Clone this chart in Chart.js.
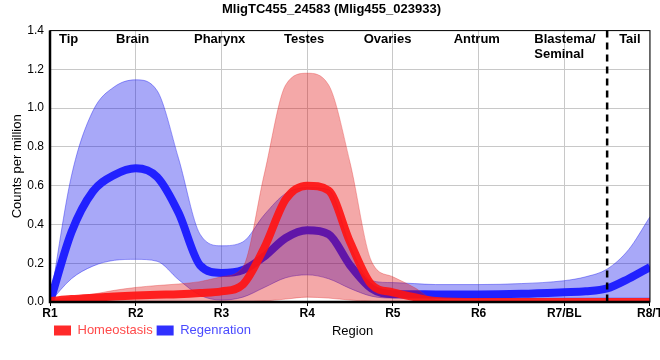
<!DOCTYPE html>
<html>
<head>
<meta charset="utf-8">
<script src="https://cdn.jsdelivr.net/npm/chart.js@4.4.1/dist/chart.umd.min.js"></script>
<style>
  html, body { margin: 0; padding: 0; background: #fff; overflow: hidden; }
  #wrap { width: 663px; height: 360px; }
</style>
</head>
<body>
<div id="wrap"><canvas id="grafico"></canvas></div>
<script>
// posiciones en el eje x (1 = R1 ... 8 = R8/T)
const xPos = [1, 1.25, 1.5, 1.75, 2, 2.25, 2.5, 2.75, 3, 3.25, 3.5, 3.75, 4, 4.25, 4.5, 4.75, 5, 5.25, 5.5, 6, 6.5, 7, 7.25, 7.5, 7.75, 8]

const homeoMean = [0.005, 0.015, 0.022, 0.028, 0.033, 0.037, 0.04, 0.046, 0.055, 0.09, 0.28, 0.53, 0.60, 0.575, 0.31, 0.09, 0.05, 0.025, 0.005, 0, 0, 0, 0, 0, 0, 0]
const homeoHi = [0.01, 0.025, 0.04, 0.06, 0.075, 0.085, 0.093, 0.105, 0.13, 0.18, 0.66, 1.12, 1.18, 1.12, 0.72, 0.21, 0.13, 0.075, 0.01, 0, 0, 0, 0, 0, 0, 0]
const homeoLo = [0, 0, 0, 0, 0, 0, 0, 0, 0, 0.002, 0.005, 0.015, 0.025, 0.02, 0.01, 0.003, 0, 0, 0, 0, 0, 0, 0, 0, 0, 0]

const regenMean = [0, 0.36, 0.57, 0.655, 0.69, 0.645, 0.46, 0.19, 0.15, 0.165, 0.235, 0.33, 0.37, 0.35, 0.19, 0.07, 0.04, 0.04, 0.039, 0.039, 0.042, 0.05, 0.055, 0.07, 0.12, 0.18]
const regenHi = [0, 0.65, 0.985, 1.11, 1.146, 1.09, 0.74, 0.35, 0.29, 0.31, 0.45, 0.56, 0.59, 0.58, 0.29, 0.11, 0.1, 0.095, 0.09, 0.09, 0.095, 0.11, 0.13, 0.17, 0.27, 0.44]
const regenLo = [0, 0.12, 0.185, 0.215, 0.22, 0.21, 0.115, 0.035, 0.01, 0.025, 0.075, 0.125, 0.14, 0.12, 0.07, 0.03, 0.02, 0.02, 0.02, 0.02, 0.02, 0.02, 0.02, 0.02, 0.02, 0.02]

const xLabels = ['R1', 'R2', 'R3', 'R4', 'R5', 'R6', 'R7/BL', 'R8/T']
const yTicks = [0, 0.2, 0.4, 0.6, 0.8, 1.0, 1.2, 1.4]

// nombres de las regiones arriba (posicion izquierda en unidades de x)
const regionNames = [['Tip'], ['Brain'], ['Pharynx'], ['Testes'], ['Ovaries'], ['Antrum'], ['Blastema/', 'Seminal'], ['Tail']]
const regionAt = [1.105, 1.77, 2.68, 3.73, 4.66, 5.71, 6.65, 7.64]
const dividerAt = 7.5

const FONT = "'Liberation Sans', Arial, sans-serif"

const pts = (arr) => arr.map((v, i) => ({ x: xPos[i], y: v }))

const linea = (label, arr, color, width, extra) => Object.assign({
    label: label,
    data: pts(arr),
    borderColor: color,
    borderWidth: width,
    pointRadius: 0,
    cubicInterpolationMode: 'monotone',
    fill: false
}, extra || {})

const overlay = {
    id: 'overlay',
    afterDatasetsDraw(chart) {
        const { ctx, chartArea: a, scales: { x } } = chart
        ctx.save()
        // linea punteada
        const dx = x.getPixelForValue(dividerAt)
        ctx.strokeStyle = '#000'
        ctx.lineWidth = 2.5
        ctx.setLineDash([7, 5])
        ctx.beginPath()
        ctx.moveTo(dx, a.top)
        ctx.lineTo(dx, a.bottom + 4)
        ctx.stroke()
        ctx.setLineDash([])
        // marco
        ctx.lineWidth = 1
        ctx.strokeRect(a.left, a.top, a.width, a.height)
        ctx.lineWidth = 2.5
        ctx.beginPath()
        ctx.moveTo(a.left, a.top)
        ctx.lineTo(a.left, a.bottom)
        ctx.lineTo(a.right, a.bottom)
        ctx.stroke()
        // regiones
        ctx.fillStyle = '#000'
        ctx.font = 'bold 13px ' + FONT
        ctx.textAlign = 'left'
        ctx.textBaseline = 'middle'
        regionNames.forEach((lines, i) => {
            lines.forEach((t, j) => {
                ctx.fillText(t, x.getPixelForValue(regionAt[i]), a.top + 9 + j * 14.5)
            })
        })
        // titulo del eje x
        ctx.font = '13px ' + FONT
        ctx.textAlign = 'center'
        ctx.fillText('Region', x.getPixelForValue(4.53), 331)
        ctx.restore()
    }
}

const grafico = document.getElementById('grafico').getContext('2d')

new Chart(grafico, {
    type: 'line',
    data: {
        datasets: [
            linea('Homeostasis', homeoMean, 'rgba(255, 20, 20, 0.92)', 8),
            linea('', homeoHi, 'rgba(225, 40, 40, 0.35)', 1, { fill: '+1', backgroundColor: 'rgba(223, 0, 0, 0.34)' }),
            linea('', homeoLo, 'rgba(225, 40, 40, 0.35)', 1),
            linea('Regenration', regenMean, 'rgba(25, 25, 255, 0.95)', 8),
            linea('', regenHi, 'rgba(40, 40, 240, 0.45)', 1, { fill: '+1', backgroundColor: 'rgba(0, 0, 234, 0.34)' }),
            linea('', regenLo, 'rgba(40, 40, 240, 0.45)', 1)
        ]
    },
    options: {
        responsive: true,
        maintainAspectRatio: false,
        animation: false,
        layout: { padding: { top: 0, bottom: 13 } },
        scales: {
            x: {
                type: 'linear',
                min: 1,
                max: 8,
                afterFit: (s) => { s.height = 18 },
                grid: { color: '#c8c8c8', tickColor: '#000', tickLength: 4 },
                border: { display: false },
                ticks: {
                    stepSize: 1,
                    padding: 0,
                    color: '#000',
                    font: { family: FONT, size: 12, weight: 'bold' },
                    callback: (v) => xLabels[v - 1]
                }
            },
            y: {
                min: 0,
                max: 1.4,
                afterFit: (s) => { s.width = 50 },
                afterBuildTicks: (s) => { s.ticks = yTicks.map(v => ({ value: v })) },
                grid: { color: '#c8c8c8', drawTicks: false },
                border: { display: false },
                ticks: {
                    padding: 6,
                    color: '#000',
                    font: { family: FONT, size: 12 },
                    callback: (v) => v.toFixed(1)
                },
                title: {
                    display: true,
                    text: 'Counts per million',
                    color: '#000',
                    padding: { top: 10, bottom: 0 },
                    font: { family: FONT, size: 13 }
                }
            }
        },
        plugins: {
            legend: {
                position: 'bottom',
                align: 'start',
                fullSize: false,
                labels: {
                    boxWidth: 17,
                    boxHeight: 10,
                    padding: 4,
                    font: { family: FONT, size: 13 },
                    filter: (item) => item.text !== '',
                    generateLabels: (chart) => {
                        const items = Chart.defaults.plugins.legend.labels.generateLabels(chart)
                        items.forEach(it => {
                            if (it.text === 'Homeostasis') { it.fontColor = '#ff4a4a'; it.fillStyle = '#ff2a2a' }
                            if (it.text === 'Regenration') { it.fontColor = '#4a4aff'; it.fillStyle = '#3030ff' }
                            it.strokeStyle = it.fillStyle
                            it.lineWidth = 0
                        })
                        return items
                    }
                }
            },
            title: {
                display: true,
                text: 'MligTC455_24583 (Mlig455_023933)',
                color: '#000',
                padding: { top: 2, bottom: 13 },
                font: { family: FONT, size: 13, weight: 'bold' }
            },
            tooltip: { enabled: false }
        }
    },
    plugins: [overlay]
});
</script>
</body>
</html>
